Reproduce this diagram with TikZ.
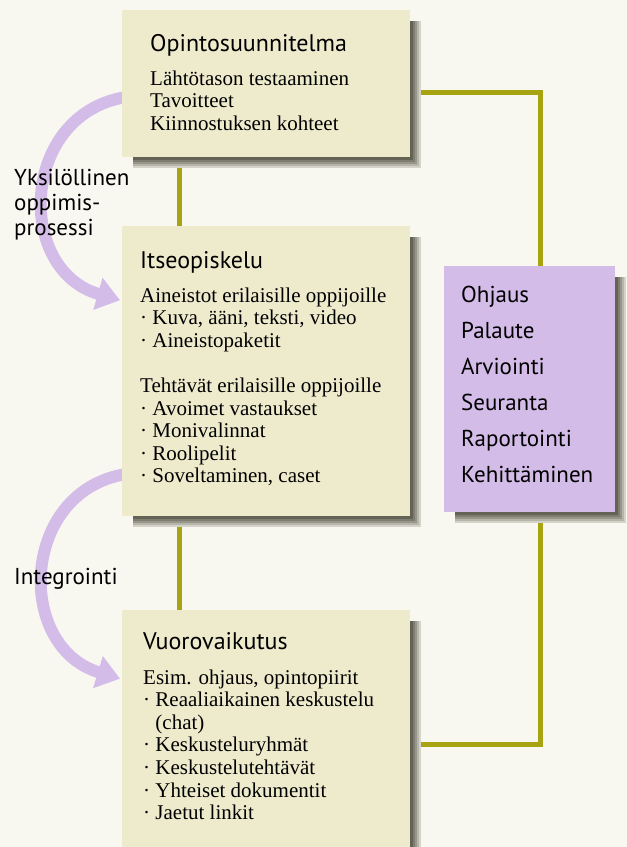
\documentclass[tikz,border=0pt]{standalone}
\usepackage{fontspec}
\setmainfont{Liberation Serif}
\setsansfont{PT Sans}
\usetikzlibrary{arrows.meta,backgrounds}

\definecolor{paper}{RGB}{249,248,240}
\definecolor{boxfill}{RGB}{238,235,205}
\definecolor{lilac}{RGB}{212,188,232}
\definecolor{olive}{RGB}{168,163,16}
\definecolor{shade}{RGB}{100,98,84}

\tikzset{
  infobox/.style={fill=boxfill, anchor=north west, inner sep=0pt},
  taskbox/.style={fill=lilac, anchor=north west, inner sep=0pt},
  link/.style={olive, line width=5pt},
  flow/.style={lilac, line width=12pt, -{Triangle[length=23pt,width=32pt]}},
  head/.style={font=\fontsize{24}{28}\selectfont\sffamily, anchor=base west, inner sep=0pt},
  body/.style={font=\fontsize{21}{22.6}\selectfont, anchor=base west, inner sep=0pt},
  side/.style={font=\fontsize{23}{25}\selectfont\sffamily, anchor=base west, inner sep=0pt},
}

% soft shadow to the lower right of a box
\newcommand{\boxshade}[1]{%
  \foreach \d/\t in {11/25,9/45,7/65,5/82,3/100}
    \fill[shade!\t!paper] ([shift={(11,11)}]#1.north west) rectangle ([shift={(\d,\d)}]#1.south east);}

\begin{document}
\begin{tikzpicture}[x=1pt,y=-1pt]
  \useasboundingbox (0,0) rectangle (627,847);

  % boxes
  \node[infobox, minimum width=288pt, minimum height=147pt] (plan) at (122,10) {};
  \node[infobox, minimum width=288pt, minimum height=290pt] (self) at (122,226) {};
  \node[infobox, minimum width=288pt, minimum height=240pt] (interact) at (122,610) {};
  \node[taskbox, minimum width=171pt, minimum height=246pt] (tasks) at (444,266) {};

  % texts
  \node[head] (planhead) at (150,51) {Opintosuunnitelma};
  \node[body] (planlist) at (150,85) {\begin{tabular}[t]{@{}l@{}}
    Lähtötason testaaminen\\
    Tavoitteet\\
    Kiinnostuksen kohteet
  \end{tabular}};

  \node[head] (selfhead) at (140,268) {Itseopiskelu};
  \node[body] (selflist) at (140,302) {\begin{tabular}[t]{@{}l@{}}
    Aineistot erilaisille oppijoille\\
    · Kuva, ääni, teksti, video\\
    · Aineistopaketit\\
    \\
    Tehtävät erilaisille oppijoille\\
    · Avoimet vastaukset\\
    · Monivalinnat\\
    · Roolipelit\\
    · Soveltaminen, caset
  \end{tabular}};

  \node[head] (interhead) at (143,649) {Vuorovaikutus};
  \node[body] (interlist) at (143,684) {\begin{tabular}[t]{@{}l@{}}
    Esim. ohjaus, opintopiirit\\
    · Reaaliaikainen keskustelu\\
    \hphantom{· }(chat)\\
    · Keskusteluryhmät\\
    · Keskustelutehtävät\\
    · Yhteiset dokumentit\\
    · Jaetut linkit
  \end{tabular}};

  \node[side, font=\fontsize{23}{36}\selectfont\sffamily] (tasklist) at (461,302) {\begin{tabular}[t]{@{}l@{}}
    Ohjaus\\ Palaute\\ Arviointi\\ Seuranta\\ Raportointi\\ Kehittäminen
  \end{tabular}};

  \node[side] (proclabel) at (14,185) {\begin{tabular}[t]{@{}l@{}}
    Yksilöllinen\\ oppimis-\\ prosessi
  \end{tabular}};
  \node[side] (intlabel) at (14,584) {Integrointi};

  \begin{scope}[on background layer]
    \fill[paper] (0,0) rectangle (627,847);

    % connecting lines
    \draw[link] ([xshift=57pt]plan.south west) -- ([xshift=57pt]self.north west);
    \draw[link] ([xshift=57pt]self.south west) -- ([xshift=57pt]interact.north west);
    \draw[link] ([shift={(0,8.5)}]plan.east) -| ([xshift=10.5pt]tasks.north);
    \draw[link] ([xshift=10.5pt]tasks.south) |- ([shift={(0,14.5)}]interact.east);

    % curved arrows
    \draw[flow] ([shift={(3,13.5)}]plan.west) .. controls (20,115) and (15,270) .. ([shift={(-2,-71)}]self.west);
    \draw[flow] ([shift={(3,103)}]self.west) .. controls (20,492) and (15,647) .. ([shift={(-2,-51.5)}]interact.west);

    \boxshade{plan}
    \boxshade{self}
    \boxshade{interact}
    \boxshade{tasks}
  \end{scope}
\end{tikzpicture}
\end{document}
